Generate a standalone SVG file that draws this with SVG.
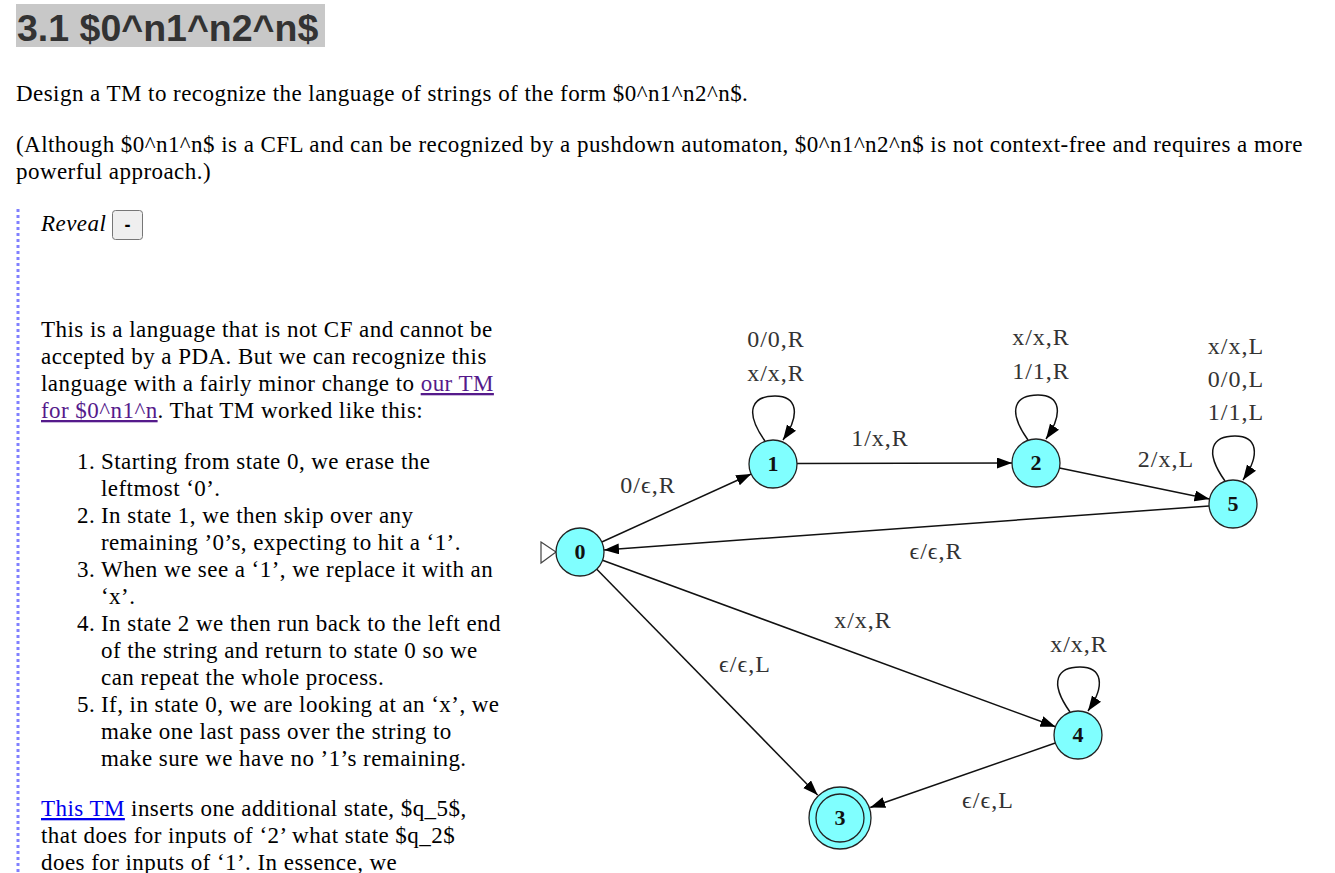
<svg xmlns="http://www.w3.org/2000/svg" width="1335" height="873" viewBox="0 0 1335 873">
<style>
.body{font-family:"Liberation Serif","Times New Roman",serif;font-size:23px;letter-spacing:0.45px;fill:#000}
.title{font-family:"Liberation Sans",Arial,sans-serif;font-weight:bold;font-size:37.5px;fill:#333}
.lbl{font-family:"Liberation Serif","Times New Roman",serif;font-size:24px;letter-spacing:1px;fill:#333;text-anchor:middle}
.nlbl{font-family:"Liberation Serif","Times New Roman",serif;font-size:22px;font-weight:bold;fill:#111;text-anchor:middle}
.node{fill:#80ffff;stroke:#222;stroke-width:1.3}
.edge{fill:none;stroke:#111;stroke-width:1.5}
.link1{fill:#551a8b;text-decoration:underline}
.link2{fill:#0000ee;text-decoration:underline}
</style>
<defs>
<marker id="arr" markerUnits="userSpaceOnUse" markerWidth="16" markerHeight="12" refX="15" refY="5.5" orient="auto">
<path d="M0,0 L15,5.5 L0,11 z" fill="#000"/>
</marker>
</defs>
<rect width="1335" height="873" fill="#fff"/>
<g id="heading">
<rect x="16" y="4" width="309" height="43" fill="#c8c8c8"/>
<text class="title" x="17" y="41">3.1 $0^n1^n2^n$</text>
</g>
<g id="intro">
<text class="body" x="16" y="101">Design a TM to recognize the language of strings of the form $0^n1^n2^n$.</text>
<text class="body" x="16" y="152">(Although $0^n1^n$ is a CFL and can be recognized by a pushdown automaton, $0^n1^n2^n$ is not context-free and requires a more</text>
<text class="body" x="16" y="179">powerful approach.)</text>
</g>
<line x1="18" y1="209" x2="18" y2="873" stroke="#8080ff" stroke-width="3" stroke-dasharray="3 3"/>
<g id="reveal">
<text class="body" x="41" y="231" font-style="italic">Reveal</text>
<rect x="112.5" y="210.5" width="30" height="29" rx="3" fill="#efefef" stroke="#767676"/>
<text x="127.5" y="231" font-family="Liberation Sans,Arial,sans-serif" font-size="18" font-weight="bold" text-anchor="middle" fill="#000">-</text>
</g>
<g id="explanation">
<text class="body" x="41" y="337">This is a language that is not CF and cannot be</text>
<text class="body" x="41" y="364">accepted by a PDA. But we can recognize this</text>
<text class="body" x="41" y="391">language with a fairly minor change to <tspan class="link1">our TM</tspan></text>
<text class="body" x="41" y="418"><tspan class="link1">for $0^n1^n</tspan>. That TM worked like this:</text>
<text class="body" x="77" y="469">1.</text><text class="body" x="101" y="469">Starting from state 0, we erase the</text>
<text class="body" x="101" y="496">leftmost ‘0’.</text>
<text class="body" x="77" y="523">2.</text><text class="body" x="101" y="523">In state 1, we then skip over any</text>
<text class="body" x="101" y="550">remaining ’0’s, expecting to hit a ‘1’.</text>
<text class="body" x="77" y="577">3.</text><text class="body" x="101" y="577">When we see a ‘1’, we replace it with an</text>
<text class="body" x="101" y="604">‘x’.</text>
<text class="body" x="77" y="631">4.</text><text class="body" x="101" y="631">In state 2 we then run back to the left end</text>
<text class="body" x="101" y="658">of the string and return to state 0 so we</text>
<text class="body" x="101" y="685">can repeat the whole process.</text>
<text class="body" x="77" y="712">5.</text><text class="body" x="101" y="712">If, in state 0, we are looking at an ‘x’, we</text>
<text class="body" x="101" y="739">make one last pass over the string to</text>
<text class="body" x="101" y="766">make sure we have no ’1’s remaining.</text>
<text class="body" x="41" y="816"><tspan class="link2">This TM</tspan> inserts one additional state, $q_5$,</text>
<text class="body" x="41" y="843">that does for inputs of ‘2’ what state $q_2$</text>
<text class="body" x="41" y="870">does for inputs of ‘1’. In essence, we</text>
</g>
<g id="connectors">
<path class="edge" d="M601.8,542 L751.2,474" marker-end="url(#arr)"/>
<path class="edge" d="M765,441 C743,410 753,396 775,396 C797,396 801,414 783,440" marker-end="url(#arr)"/>
<path class="edge" d="M797,463.5 L1012,463" marker-end="url(#arr)"/>
<path class="edge" d="M1028,440 C1006,409 1016,395 1038,395 C1060,395 1064,413 1046,439" marker-end="url(#arr)"/>
<path class="edge" d="M1059.5,468 L1209.5,499" marker-end="url(#arr)"/>
<path class="edge" d="M1225,481 C1203,450 1213,436 1235,436 C1257,436 1261,454 1243,480" marker-end="url(#arr)"/>
<path class="edge" d="M1209,506 L604,550" marker-end="url(#arr)"/>
<path class="edge" d="M602.5,560.3 L1055.5,726.7" marker-end="url(#arr)"/>
<path class="edge" d="M1070,712 C1048,681 1058,667 1080,667 C1102,667 1106,685 1088,711" marker-end="url(#arr)"/>
<path class="edge" d="M596.8,569.2 L817.6,795" marker-end="url(#arr)"/>
<path class="edge" d="M1055.3,743 L870.2,807.5" marker-end="url(#arr)"/>
<text class="lbl" x="648" y="493">0/ϵ,R</text>
<text class="lbl" x="776" y="347">0/0,R</text>
<text class="lbl" x="776" y="381">x/x,R</text>
<text class="lbl" x="880" y="446">1/x,R</text>
<text class="lbl" x="1041" y="345">x/x,R</text>
<text class="lbl" x="1041" y="379">1/1,R</text>
<text class="lbl" x="1166" y="467">2/x,L</text>
<text class="lbl" x="1236" y="354">x/x,L</text>
<text class="lbl" x="1236" y="387">0/0,L</text>
<text class="lbl" x="1236" y="420">1/1,L</text>
<text class="lbl" x="936" y="559">ϵ/ϵ,R</text>
<text class="lbl" x="863" y="628">x/x,R</text>
<text class="lbl" x="1079" y="652">x/x,R</text>
<text class="lbl" x="745" y="672">ϵ/ϵ,L</text>
<text class="lbl" x="988" y="808">ϵ/ϵ,L</text>
</g>
<g id="node0">
<path d="M541,542 L556,552 L541,563 z" fill="#fff" stroke="#444" stroke-width="1.2"/>
<circle class="node" cx="580" cy="552" r="24"/>
<text class="nlbl" x="580" y="559">0</text>
</g>
<g id="node1">
<circle class="node" cx="773" cy="464" r="24"/>
<text class="nlbl" x="773" y="471">1</text>
</g>
<g id="node2">
<circle class="node" cx="1036" cy="463" r="24"/>
<text class="nlbl" x="1036" y="470">2</text>
</g>
<g id="node5">
<circle class="node" cx="1233" cy="504" r="24"/>
<text class="nlbl" x="1233" y="511">5</text>
</g>
<g id="node4">
<circle class="node" cx="1078" cy="735" r="24"/>
<text class="nlbl" x="1078" y="742">4</text>
</g>
<g id="node3">
<circle class="node" cx="840" cy="818" r="31"/>
<circle cx="840" cy="818" r="24" fill="none" stroke="#222" stroke-width="1.3"/>
<text class="nlbl" x="840" y="825">3</text>
</g>
</svg>
